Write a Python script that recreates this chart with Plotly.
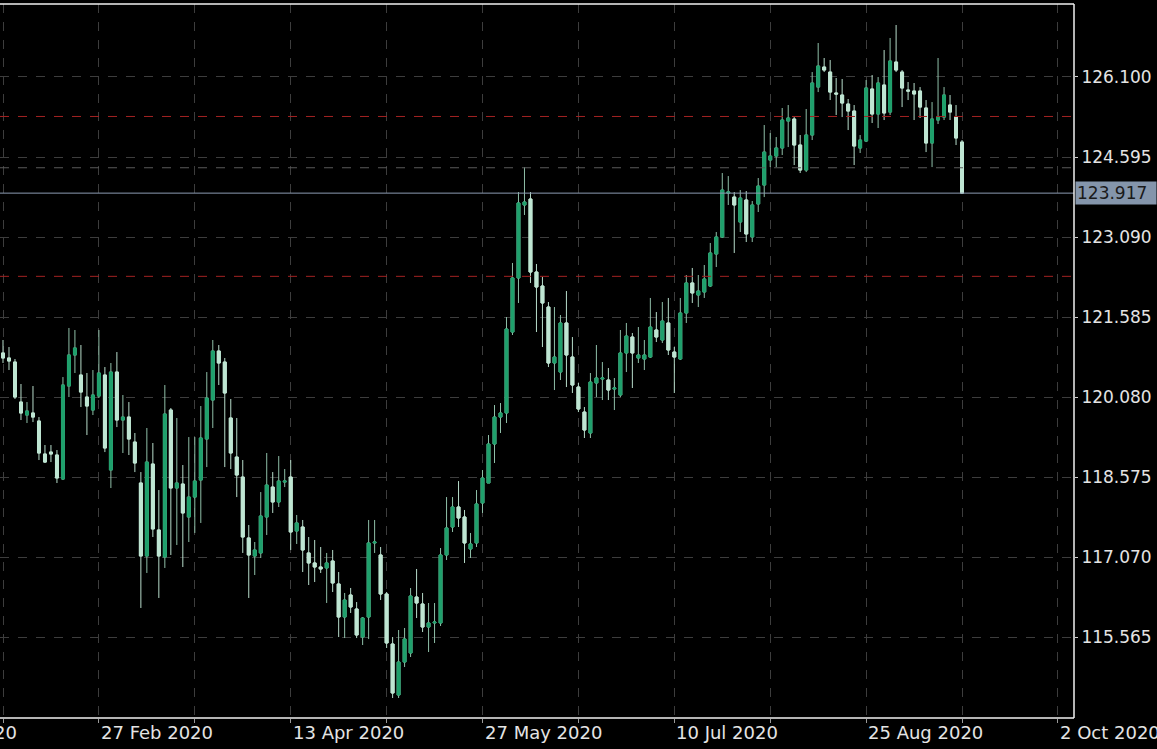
import plotly.graph_objects as go
import pandas as pd

# ---------------- data ----------------
dates = pd.bdate_range("2020-02-05", periods=161)

opens = [120.912, 120.818, 120.742, 119.990, 119.746, 119.784, 119.633, 119.013, 119.050, 118.994,
         118.543, 120.291, 120.874, 120.498, 120.084, 119.840, 120.103, 120.498, 118.712, 120.554,
         119.652, 119.708, 119.238, 118.468, 117.096, 118.825, 117.585, 117.077, 119.840, 118.374,
         118.449, 117.829, 118.204, 118.524, 119.295, 120.028, 120.949, 120.742, 119.690, 118.956,
         118.580, 117.435, 117.096, 117.153, 117.829, 118.392, 118.111, 118.486, 118.580, 117.566,
         117.641, 117.153, 116.965, 116.889, 116.871, 117.002, 116.570, 115.949, 116.363, 116.100,
         115.573, 115.949, 117.341, 117.115, 116.382, 115.442, 114.483, 115.103, 115.273, 116.325,
         116.194, 115.761, 115.837, 115.837, 117.115, 117.641, 118.017, 117.829, 117.228, 117.341,
         118.093, 118.468, 119.201, 119.708, 119.784, 121.306, 122.322, 123.694, 123.806, 122.434,
         122.171, 121.776, 120.724, 120.554, 121.476, 120.836, 120.272, 119.802, 119.408, 120.348,
         120.423, 120.404, 120.235, 120.122, 120.912, 121.212, 120.818, 120.799, 120.836, 121.344,
         121.156, 121.476, 120.930, 120.799, 121.664, 122.228, 122.002, 122.058, 122.171, 122.773,
         123.092, 123.919, 123.843, 123.374, 123.788, 123.092, 123.713, 124.069, 124.539, 124.614,
         124.765, 125.272, 125.310, 124.821, 124.351, 125.009, 125.911, 126.287, 126.193, 125.799,
         125.761, 125.592, 125.460, 124.765, 124.896, 125.874, 125.404, 125.949, 125.441, 126.381,
         126.193, 125.855, 125.836, 125.836, 125.517, 124.859, 125.291, 125.347, 125.573, 125.347,
         124.877]

highs = [121.156, 121.024, 120.799, 120.329, 119.990, 120.291, 119.708, 119.182, 119.182, 119.088,
         120.460, 121.382, 121.344, 121.062, 120.536, 120.592, 121.344, 120.648, 120.724, 120.930,
         120.122, 119.990, 119.408, 118.674, 119.502, 119.220, 118.336, 120.310, 119.878, 119.690,
         118.806, 119.332, 119.332, 119.915, 120.554, 121.156, 121.062, 120.818, 120.047, 119.690,
         118.900, 117.679, 117.359, 118.298, 119.032, 118.674, 118.975, 118.731, 118.900, 117.867,
         117.773, 117.453, 117.397, 117.265, 117.153, 117.209, 116.795, 116.401, 116.495, 116.231,
         115.949, 117.773, 117.773, 117.265, 116.419, 115.573, 115.705, 115.743, 116.494, 116.852,
         116.401, 116.212, 116.212, 117.246, 118.204, 118.204, 118.505, 117.961, 117.529, 118.336,
         118.712, 119.370, 119.934, 119.972, 121.588, 122.604, 123.937, 124.407, 123.937, 122.585,
         122.340, 121.870, 121.776, 121.626, 122.077, 121.212, 120.348, 119.896, 120.536, 121.062,
         120.742, 120.630, 120.442, 121.344, 121.476, 121.288, 121.400, 121.156, 121.946, 121.682,
         121.870, 121.946, 121.024, 121.946, 122.378, 122.510, 122.378, 122.566, 122.980, 123.186,
         124.295, 124.238, 123.937, 123.975, 123.956, 123.769, 124.201, 125.197, 125.047, 124.971,
         125.517, 125.573, 125.347, 125.009, 125.498, 126.193, 126.739, 126.457, 126.419, 126.081,
         126.062, 125.686, 125.573, 125.009, 126.043, 126.137, 126.099, 126.607, 126.833, 127.077,
         126.231, 126.005, 125.987, 125.911, 125.667, 125.629, 126.457, 125.911, 125.761, 125.573,
         124.915]

lows = [120.724, 120.592, 120.047, 119.652, 119.596, 119.614, 118.900, 118.844, 118.862, 118.468,
        118.524, 120.084, 120.536, 119.896, 119.370, 119.746, 120.066, 119.050, 118.374, 119.520,
        119.032, 118.994, 118.674, 116.119, 116.777, 117.453, 116.307, 116.871, 117.115, 117.303,
        116.889, 117.359, 117.529, 117.717, 118.768, 119.502, 120.310, 118.768, 118.731, 118.204,
        117.153, 116.307, 116.739, 117.059, 117.491, 117.905, 118.017, 118.392, 117.209, 117.322,
        116.795, 116.551, 116.607, 116.777, 116.213, 116.419, 115.573, 115.554, 116.025, 115.554,
        115.423, 115.535, 117.153, 116.269, 115.367, 114.427, 114.427, 115.009, 115.197, 115.930,
        115.667, 115.291, 115.461, 115.780, 117.021, 117.547, 117.641, 116.965, 117.059, 117.265,
        117.905, 118.468, 118.844, 119.408, 119.596, 121.250, 121.852, 123.506, 122.228, 121.306,
        121.024, 120.648, 120.216, 120.404, 120.272, 120.160, 119.802, 119.314, 119.314, 120.084,
        120.028, 120.028, 119.840, 120.084, 120.554, 120.254, 120.724, 120.592, 120.818, 121.118,
        121.100, 120.874, 120.160, 120.780, 121.476, 121.852, 121.776, 121.946, 122.152, 122.528,
        123.074, 123.694, 122.792, 123.186, 122.998, 122.998, 123.562, 123.843, 124.407, 124.407,
        124.633, 124.783, 124.445, 124.295, 124.313, 124.915, 125.817, 126.193, 125.667, 125.385,
        125.347, 125.103, 124.445, 124.671, 124.877, 125.235, 125.141, 125.291, 125.385, 126.193,
        125.535, 125.667, 125.291, 125.329, 124.689, 124.407, 125.216, 125.291, 125.291, 124.821,
        123.900]

closes = [120.818, 120.761, 120.084, 119.784, 119.821, 119.708, 119.032, 118.862, 119.013, 118.562,
          120.310, 120.874, 121.006, 120.178, 119.915, 120.122, 120.536, 119.126, 120.554, 119.652,
          119.708, 119.295, 118.844, 117.096, 118.862, 117.604, 117.096, 119.765, 118.374, 118.468,
          117.905, 118.204, 118.505, 119.314, 120.066, 120.949, 120.724, 120.160, 119.032, 118.618,
          117.453, 117.115, 117.209, 117.848, 118.430, 118.111, 118.505, 118.505, 117.547, 117.717,
          117.209, 116.965, 116.889, 116.852, 116.965, 116.589, 115.949, 116.269, 116.137, 115.611,
          115.930, 117.341, 117.359, 116.382, 115.461, 114.521, 115.103, 115.536, 116.344, 116.212,
          115.761, 115.837, 115.855, 117.115, 117.623, 118.017, 117.811, 117.341, 117.322, 118.074,
          118.562, 119.201, 119.708, 119.784, 121.363, 122.322, 123.732, 123.750, 122.434, 122.152,
          121.852, 120.724, 120.836, 121.476, 120.874, 120.310, 119.859, 119.464, 120.366, 120.442,
          120.442, 120.216, 120.254, 120.912, 121.231, 120.912, 120.874, 120.874, 121.400, 121.212,
          121.513, 120.968, 120.836, 121.664, 122.228, 122.040, 122.077, 122.303, 122.792, 123.092,
          123.975, 123.937, 123.694, 123.825, 123.149, 123.694, 124.050, 124.689, 124.614, 124.765,
          125.291, 125.329, 124.821, 124.351, 125.009, 125.987, 126.306, 126.231, 125.817, 125.780,
          125.611, 125.460, 124.802, 124.915, 125.893, 125.404, 125.987, 125.423, 126.400, 126.231,
          125.893, 125.836, 125.780, 125.535, 124.859, 125.310, 125.347, 125.761, 125.441, 124.953,
          123.917]

date_labels = ["14 Jan 2020", "27 Feb 2020", "13 Apr 2020", "27 May 2020",
               "10 Jul 2020", "25 Aug 2020", "2 Oct 2020"]
date_label_bars = [-16, 16, 48, 80, 112, 144, 176]
grid_bars = [0, 16, 32, 48, 64, 80, 96, 112, 128, 144, 160, 176]
price_ticks = [115.565, 117.070, 118.575, 120.080, 121.585, 123.090, 124.595, 126.100]
red_levels = [125.358, 122.353]
gray_levels = [124.394]
last_price = 123.917

# ---------------- styling ----------------
BULL = "#1fa06c"
BEAR = "#bfe6d3"
WICK_BULL = "#8fbfa8"
WICK_BEAR = "#b7dcca"
GRID = "#3d3d3d"
TEXT = "#e4e4e4"
FONT = "DejaVu Sans"

x0, x1 = -0.5, 178.68
y0, y1 = 114.051, 127.472

idx = list(range(len(opens)))
body_hi = [max(o, c) for o, c in zip(opens, closes)]
body_lo = [min(o, c) for o, c in zip(opens, closes)]
hover = [d.strftime("%d %b %Y") for d in dates]

fig = go.Figure()
# wicks (full OHLC)
fig.add_trace(go.Candlestick(
    x=idx, open=opens, high=highs, low=lows, close=closes, text=hover,
    increasing=dict(line=dict(color=WICK_BULL, width=1), fillcolor=BULL),
    decreasing=dict(line=dict(color=WICK_BEAR, width=1), fillcolor=BEAR),
    showlegend=False, name="wicks"))
# bodies
fig.add_trace(go.Candlestick(
    x=idx, open=opens, high=body_hi, low=body_lo, close=closes, text=hover,
    increasing=dict(line=dict(color=BULL, width=1), fillcolor=BULL),
    decreasing=dict(line=dict(color=BEAR, width=1), fillcolor=BEAR),
    showlegend=False, name="EURJPY"))

shapes = []
for lv in red_levels:
    shapes.append(dict(type="line", xref="paper", x0=0, x1=1, yref="y", y0=lv, y1=lv,
                       line=dict(color="#a32222", width=1, dash="dash")))
for lv in gray_levels:
    shapes.append(dict(type="line", xref="paper", x0=0, x1=1, yref="y", y0=lv, y1=lv,
                       line=dict(color="#5a5a5a", width=1, dash="dash")))
shapes.append(dict(type="line", xref="paper", x0=0, x1=1, yref="y", y0=last_price, y1=last_price,
                   line=dict(color="#8d9bb3", width=1)))
# frame
for (ax0, ay0, ax1, ay1) in [(0, 1, 1, 1), (1, 0, 1, 1), (0, 0, 1, 0)]:
    shapes.append(dict(type="line", xref="paper", yref="paper", x0=ax0, y0=ay0, x1=ax1, y1=ay1,
                       line=dict(color="#f0f0f0", width=1.5)))

annotations = []
for b, t in zip(date_label_bars, date_labels):
    annotations.append(dict(x=(b - x0) / (x1 - x0), xref="paper", y=0, yref="paper",
                            xanchor="left", yanchor="top", yshift=-2, text=t, showarrow=False,
                            font=dict(family=FONT, size=18, color=TEXT)))
annotations.append(dict(x=1, xref="paper", y=last_price, yref="y", xanchor="left", yanchor="middle",
                        xshift=1, text=f"{last_price:.3f}", showarrow=False, align="left",
                        bgcolor="#8495ab", borderpad=1, width=78,
                        font=dict(family=FONT, size=17, color="#1a1a1a")))

fig.update_layout(
    width=1157, height=749,
    paper_bgcolor="#000000", plot_bgcolor="#000000",
    margin=dict(l=0, r=83, t=4, b=31),
    shapes=shapes, annotations=annotations,
    showlegend=False,
    xaxis=dict(range=[x0, x1], tickvals=grid_bars, showticklabels=False,
               ticks="outside", ticklen=4, tickcolor="#9a9a9a",
               showgrid=True, gridcolor=GRID, griddash="dash", gridwidth=1,
               zeroline=False, showline=False, rangeslider=dict(visible=False)),
    yaxis=dict(range=[y0, y1], side="right", tickvals=price_ticks,
               ticktext=[f"{v:.3f}" for v in price_ticks],
               ticks="outside", ticklen=3, tickcolor="#cfcfcf", ticklabelstandoff=0,
               tickfont=dict(family=FONT, size=17, color=TEXT),
               showgrid=True, gridcolor=GRID, griddash="dash", gridwidth=1,
               zeroline=False, showline=False),
)

fig.write_html("out.html", config={"displayModeBar": False},
               post_script="document.body.style.margin='0';document.body.style.overflow='hidden';")
